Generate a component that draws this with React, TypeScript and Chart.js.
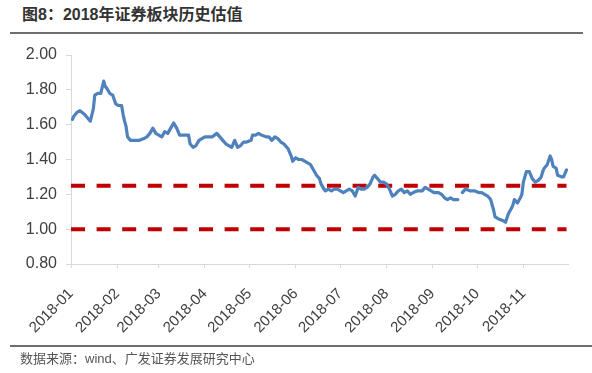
import React, { useEffect, useRef } from "react";
import { Chart, registerables } from "chart.js";

Chart.register(...registerables);

const TITLE = "图8：2018年证券板块历史估值";
const SOURCE = "数据来源：wind、广发证券发展研究中心";

const dates: string[] = [
  "2018-01-02", "2018-01-03", "2018-01-05", "2018-01-07", "2018-01-10", "2018-01-12", "2018-01-14", "2018-01-16",
  "2018-01-17", "2018-01-19", "2018-01-21", "2018-01-23", "2018-01-24", "2018-01-25", "2018-01-27", "2018-01-29",
  "2018-01-31", "2018-02-02", "2018-02-04", "2018-02-05", "2018-02-06", "2018-02-07", "2018-02-08", "2018-02-10",
  "2018-02-12", "2018-02-16", "2018-02-19", "2018-02-21", "2018-02-23", "2018-02-25", "2018-02-27", "2018-03-01",
  "2018-03-03", "2018-03-05", "2018-03-07", "2018-03-09", "2018-03-11", "2018-03-13", "2018-03-15", "2018-03-17",
  "2018-03-21", "2018-03-22", "2018-03-24", "2018-03-26", "2018-03-28", "2018-03-30", "2018-04-01", "2018-04-03",
  "2018-04-06", "2018-04-09", "2018-04-11", "2018-04-13", "2018-04-15", "2018-04-17", "2018-04-19", "2018-04-21",
  "2018-04-23", "2018-04-25", "2018-04-27", "2018-04-29", "2018-05-02", "2018-05-03", "2018-05-05", "2018-05-07",
  "2018-05-09", "2018-05-12", "2018-05-14", "2018-05-16", "2018-05-18", "2018-05-20", "2018-05-22", "2018-05-24",
  "2018-05-26", "2018-05-27", "2018-05-29", "2018-05-30", "2018-06-01", "2018-06-03", "2018-06-05", "2018-06-07",
  "2018-06-09", "2018-06-11", "2018-06-13", "2018-06-15", "2018-06-17", "2018-06-18", "2018-06-20", "2018-06-21",
  "2018-06-23", "2018-06-25", "2018-06-27", "2018-06-29", "2018-07-01", "2018-07-03", "2018-07-05", "2018-07-07",
  "2018-07-09", "2018-07-11", "2018-07-13", "2018-07-15", "2018-07-17", "2018-07-19", "2018-07-21", "2018-07-23",
  "2018-07-24", "2018-07-26", "2018-07-28", "2018-07-30", "2018-08-01", "2018-08-03", "2018-08-04", "2018-08-05",
  "2018-08-07", "2018-08-09", "2018-08-11", "2018-08-13", "2018-08-15", "2018-08-17", "2018-08-19", "2018-08-22",
  "2018-08-25", "2018-08-27", "2018-08-29", "2018-08-31", "2018-09-02", "2018-09-05", "2018-09-07", "2018-09-09",
  "2018-09-11", "2018-09-13", "2018-09-15", "2018-09-17", "2018-09-18", "2018-09-19", "2018-09-21", "2018-09-23",
  "2018-09-26", "2018-09-29", "2018-10-02", "2018-10-04", "2018-10-08", "2018-10-10", "2018-10-12", "2018-10-13",
  "2018-10-15", "2018-10-18", "2018-10-20", "2018-10-22", "2018-10-24", "2018-10-25", "2018-10-26", "2018-10-28",
  "2018-10-30", "2018-10-31", "2018-11-01", "2018-11-03", "2018-11-05", "2018-11-07", "2018-11-09", "2018-11-11",
  "2018-11-13", "2018-11-14", "2018-11-15", "2018-11-17", "2018-11-19", "2018-11-20", "2018-11-21", "2018-11-23",
  "2018-11-24", "2018-11-27", "2018-11-28", "2018-11-30",
];

const pbValues: (number | null)[] = [
  1.63, 1.65, 1.67, 1.68, 1.66, 1.64, 1.62, 1.69,
  1.77, 1.78, 1.78, 1.85, 1.82, 1.81, 1.78, 1.77,
  1.72, 1.71, 1.71, 1.66, 1.62, 1.59, 1.53, 1.51,
  1.51, 1.51, 1.52, 1.53, 1.55, 1.58, 1.55, 1.54,
  1.53, 1.56, 1.55, 1.58, 1.61, 1.58, 1.54, 1.54,
  1.54, 1.49, 1.47, 1.48, 1.51, 1.52, 1.53, 1.53,
  1.53, 1.55, 1.53, 1.51, 1.49, 1.48, 1.47, 1.51,
  1.47, 1.48, 1.50, 1.50, 1.51, 1.54, 1.54, 1.55,
  1.54, 1.53, 1.53, 1.51, 1.53, 1.52, 1.50, 1.49,
  1.47, 1.46, 1.42, 1.39, 1.41, 1.40, 1.40, 1.39,
  1.38, 1.37, 1.34, 1.31, 1.29, 1.26, 1.23, 1.22,
  1.23, 1.22, 1.23, 1.23, 1.22, 1.21, 1.22, 1.23,
  1.22, 1.19, 1.24, 1.23, 1.23, 1.24, 1.26, 1.30,
  1.31, 1.29, 1.27, 1.27, 1.26, 1.23, 1.21, 1.19,
  1.20, 1.22, 1.23, 1.21, 1.22, 1.20, 1.21, 1.22,
  1.22, 1.24, 1.23, 1.22, 1.21, 1.21, 1.20, 1.18,
  1.17, 1.18, 1.17, 1.17, 1.17, null, 1.21, 1.23,
  1.22, 1.22, 1.21, 1.21, 1.19, 1.17, 1.11, 1.07,
  1.06, 1.05, 1.04, 1.09, 1.12, 1.14, 1.17, 1.15,
  1.18, 1.20, 1.27, 1.33, 1.33, 1.29, 1.27, 1.28,
  1.30, 1.33, 1.35, 1.37, 1.42, 1.40, 1.36, 1.35,
  1.31, 1.30, 1.30, 1.34,
];

const refLevels: number[] = [1.25, 1.0];
const refStart = "2018-01-01";
const refEnd = "2018-11-30";

const monthTicks: string[] = [
  "2018-01", "2018-02", "2018-03", "2018-04", "2018-05", "2018-06",
  "2018-07", "2018-08", "2018-09", "2018-10", "2018-11",
];
const axisStart = "2018-01-01";
const axisEnd = "2018-12-01";

const yMin = 0.8;
const yMax = 2.0;
const yStep = 0.2;

const DAY = 86400000;
function dayOffset(s: string): number {
  const [y, m, d] = s.split("-").map(Number);
  const [y0, m0, d0] = axisStart.split("-").map(Number);
  return Math.round((Date.UTC(y, m - 1, d || 1) - Date.UTC(y0, m0 - 1, d0)) / DAY);
}

export default function App() {
  const ref = useRef<HTMLCanvasElement | null>(null);

  useEffect(() => {
    document.body.style.margin = "0";
    const canvas = ref.current;
    if (!canvas) return;

    const mainData = dates.map((d, i) => ({ x: dayOffset(d), y: pbValues[i] }));
    const refSets = refLevels.map((lv) => ({
      data: [
        { x: dayOffset(refStart), y: lv },
        { x: dayOffset(refEnd), y: lv },
      ],
      borderColor: "#c00000",
      borderWidth: 4,
      borderDash: [14, 11.6],
      pointRadius: 0,
      fill: false,
      borderCapStyle: "butt" as const,
    }));

    const chart = new Chart(canvas, {
      type: "line",
      data: {
        datasets: [
          {
            data: mainData as any,
            borderColor: "#4f81bd",
            borderWidth: 3.2,
            pointRadius: 0,
            fill: false,
            tension: 0,
            spanGaps: false,
            borderJoinStyle: "round",
            borderCapStyle: "round",
          },
          ...refSets,
        ],
      },
      options: {
        animation: false,
        responsive: false,
        devicePixelRatio: 1,
        parsing: false as any,
        layout: { padding: { left: 0, top: 55, right: 24, bottom: 39 } },
        plugins: {
          legend: { display: false },
          tooltip: { enabled: false },
        },
        scales: {
          x: {
            type: "linear",
            min: dayOffset(axisStart),
            max: dayOffset(axisEnd),
            afterBuildTicks: (scale: any) => {
              scale.ticks = monthTicks.map((m) => ({ value: dayOffset(m + "-01") }));
            },
            afterFit: (scale: any) => {
              scale.height = 70;
            },
            ticks: {
              autoSkip: false,
              maxRotation: 45,
              minRotation: 45,
              padding: 17,
              color: "#404040",
              font: { family: "'Liberation Sans', Arial, sans-serif", size: 15 },
              callback: (_v: any, i: number) => monthTicks[i],
            },
            grid: {
              drawOnChartArea: false,
              drawTicks: true,
              tickLength: 4,
              color: "#d9d9d9",
            },
            border: { color: "#d9d9d9", width: 1 },
          },
          y: {
            type: "linear",
            min: yMin,
            max: yMax,
            afterFit: (scale: any) => {
              scale.width = 71;
            },
            ticks: {
              stepSize: yStep,
              padding: 9,
              color: "#404040",
              font: { family: "'Liberation Sans', Arial, sans-serif", size: 16 },
              callback: (v: any) => Number(v).toFixed(2),
            },
            grid: {
              drawOnChartArea: false,
              drawTicks: true,
              tickLength: 5,
              color: "#d9d9d9",
            },
            border: { color: "#d9d9d9", width: 1 },
          },
        },
      },
    });
    return () => chart.destroy();
  }, []);

  return (
    <div style={{ position: "relative", width: 592, height: 373, background: "#fff", overflow: "hidden" }}>
      <div
        style={{
          position: "absolute",
          left: 22,
          top: 4,
          fontFamily: "'Liberation Sans', 'Noto Sans CJK SC', sans-serif",
          fontWeight: "bold",
          fontSize: 16,
          lineHeight: "22px",
          color: "#333",
          whiteSpace: "nowrap",
        }}
      >
        {TITLE}
      </div>
      <div style={{ position: "absolute", left: 10, top: 32, width: 573, height: 2, background: "#6e6e6e" }} />
      <canvas ref={ref} width={592} height={373} style={{ position: "absolute", left: 0, top: 0, width: 592, height: 373 }} />
      <div style={{ position: "absolute", left: 10, top: 345, width: 582, height: 2, background: "#6e6e6e" }} />
      <div
        style={{
          position: "absolute",
          left: 20,
          top: 350,
          fontFamily: "'Liberation Sans', 'Noto Sans CJK SC', sans-serif",
          fontSize: 13,
          lineHeight: "18px",
          color: "#555",
          whiteSpace: "nowrap",
        }}
      >
        {SOURCE}
      </div>
    </div>
  );
}
